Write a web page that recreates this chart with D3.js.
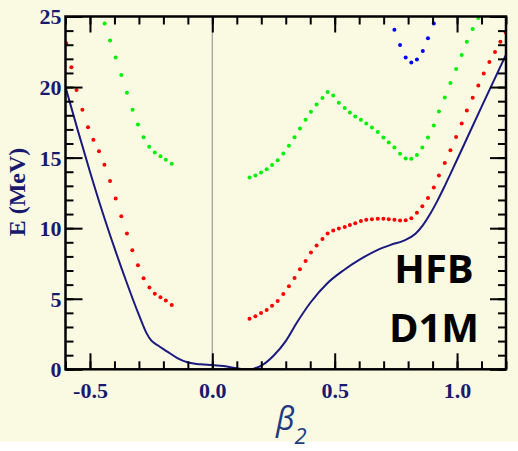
<!DOCTYPE html>
<html>
<head>
<meta charset="utf-8">
<script src="https://cdn.jsdelivr.net/npm/d3@7"></script>
<style>
  body { margin: 0; background: #ffffff; }
  svg { display: block; }
</style>
</head>
<body>
<svg id="chart" width="518" height="451"></svg>
<script>

// energy levels, [beta2, E (MeV)]
var greenLeft = [[-0.487,25.1],[-0.440,24.5],[-0.418,23.3],[-0.395,22.1],[-0.372,20.85],[-0.349,19.6],
  [-0.326,18.4],[-0.304,17.35],[-0.281,16.45],[-0.258,15.77],[-0.235,15.36],[-0.212,15.1],[-0.190,14.85],[-0.166,14.56]];

var redLeft = [[-0.597,23.1],[-0.576,21.4],[-0.555,19.8],[-0.531,18.4],[-0.508,17.16],[-0.486,16.26],[-0.463,15.45],
  [-0.441,14.5],[-0.418,13.35],[-0.395,12.1],[-0.372,10.85],[-0.349,9.62],[-0.327,8.44],[-0.304,7.38],[-0.281,6.45],
  [-0.257,5.79],[-0.235,5.36],[-0.212,5.11],[-0.190,4.87],[-0.166,4.56]];

var greenRight = [[0.152,13.59],[0.176,13.73],[0.199,13.94],[0.222,14.18],[0.244,14.47],[0.267,14.82],[0.290,15.29],
  [0.313,15.84],[0.336,16.45],[0.358,17.07],[0.381,17.68],[0.403,18.25],[0.426,18.77],[0.450,19.22],[0.471,19.65],
  [0.494,19.4],[0.517,18.89],[0.541,18.51],[0.562,18.2],[0.584,17.92],[0.607,17.68],[0.629,17.42],[0.652,17.14],
  [0.676,16.81],[0.699,16.43],[0.721,16.07],[0.744,15.72],[0.767,15.27],[0.790,14.94],[0.813,14.92],[0.836,15.18],
  [0.858,15.72],[0.881,16.43],[0.905,17.28],[0.926,18.27],[0.950,19.26],[0.973,20.28],[0.996,21.28],[1.019,22.27],
  [1.040,23.21],[1.064,24.11],[1.087,24.89]];

var redRight = [[0.152,3.59],[0.176,3.76],[0.199,3.99],[0.222,4.21],[0.244,4.51],[0.267,4.84],[0.290,5.34],[0.313,5.88],
  [0.336,6.47],[0.358,7.09],[0.381,7.68],[0.403,8.27],[0.426,8.77],[0.450,9.24],[0.471,9.62],[0.494,9.83],[0.517,9.97],
  [0.541,10.09],[0.562,10.23],[0.584,10.35],[0.607,10.5],[0.629,10.59],[0.652,10.64],[0.676,10.66],[0.699,10.66],
  [0.721,10.64],[0.744,10.59],[0.767,10.54],[0.790,10.56],[0.813,10.71],[0.836,11.09],[0.858,11.56],[0.881,12.13],
  [0.905,12.88],[0.926,13.73],[0.950,14.61],[0.973,15.53],[0.996,16.47],[1.019,17.42],[1.040,18.34],[1.064,19.24],
  [1.087,20.11],[1.109,20.96],[1.132,21.77],[1.155,22.48],[1.177,23.21],[1.199,23.87]];

var blueRight = [[0.744,24.06],[0.767,22.98],[0.790,22.1],[0.813,21.74],[0.836,21.96],[0.860,22.55],[0.881,23.45],[0.905,24.51]];

// HFB ground state energy curve
var hfbCurve = [[-0.6,20.0],[-0.55,16.95],[-0.5,14.0],[-0.45,11.2],[-0.4,8.6],[-0.35,6.15],[-0.3,3.85],
  [-0.27,2.6],[-0.25,2.05],[-0.225,1.72],[-0.184,1.25],[-0.143,0.8],[-0.102,0.5],[-0.048,0.35],[0.0,0.3],
  [0.047,0.23],[0.102,0.07],[0.15,0.0],[0.204,0.3],[0.252,1.0],[0.300,2.0],[0.347,3.35],[0.402,4.75],[0.470,6.1],
  [0.538,7.04],[0.6,7.75],[0.674,8.45],[0.729,8.82],[0.78,9.1],[0.83,9.6],[0.86,10.2],[0.89,11.0],
  [0.92,11.95],[0.95,13.0],[1.0,14.85],[1.1,18.6],[1.2,22.3]];

var xMajorTicks = [-0.5, 0.0, 0.5, 1.0];
var xTickLabels = ["-0.5", "0.0", "0.5", "1.0"];
var yMajorTicks = [0, 5, 10, 15, 20, 25];
var yTickLabels = ["0", "5", "10", "15", "20", "25"];

var navy = "#191970";
var labelFont = "'Liberation Serif', 'Times New Roman', serif";

var svg = d3.select("#chart");

// page background, white strip at the bottom
svg.append("rect").attr("width", 518).attr("height", 442).attr("fill", "#fafae2");

var x = d3.scaleLinear().domain([-0.6, 1.2]).range([65.5, 506]);
var y = d3.scaleLinear().domain([0, 25]).range([369.3, 16.5]);

var xMinor = d3.range(-6, 13).map(function(d){ return d / 10; });
var yMinor = d3.range(0, 26);

// clip for the plot area
svg.append("defs").append("clipPath").attr("id", "plot")
  .append("rect")
  .attr("x", x(-0.6)).attr("y", y(25))
  .attr("width", x(1.2) - x(-0.6)).attr("height", y(0) - y(25));

// gray line at beta = 0
svg.append("line")
  .attr("x1", x(0)).attr("x2", x(0))
  .attr("y1", y(0)).attr("y2", y(25))
  .attr("stroke", "#a8a8a0").attr("stroke-width", 1.4);

var plot = svg.append("g").attr("clip-path", "url(#plot)");

var line = d3.line()
  .x(function(d){ return x(d[0]); })
  .y(function(d){ return y(d[1]); })
  .curve(d3.curveMonotoneX);

plot.append("path")
  .datum(hfbCurve)
  .attr("d", line)
  .attr("fill", "none")
  .attr("stroke", "#1a1a80")
  .attr("stroke-width", 2);

// dotted excited levels
var series = [
  {data: greenLeft, color: "#00f000"},
  {data: greenRight, color: "#00f000"},
  {data: redLeft, color: "#ff0000"},
  {data: redRight, color: "#ff0000"},
  {data: blueRight, color: "#0000ff"}
];

series.forEach(function(s){
  plot.append("g").selectAll("circle")
    .data(s.data)
    .enter().append("circle")
    .attr("cx", function(d){ return x(d[0]); })
    .attr("cy", function(d){ return y(d[1]); })
    .attr("r", 2)
    .attr("fill", s.color);
});

// ticks on all four sides, pointing inward
function styleAxis(g){
  g.select(".domain").remove();
  g.selectAll(".tick line").attr("stroke", "#000").attr("stroke-width", 2);
}

svg.append("g").attr("transform", "translate(0," + y(0) + ")")
  .call(d3.axisBottom(x).tickValues(xMinor).tickSize(-8).tickFormat(""))
  .call(styleAxis);
svg.append("g").attr("transform", "translate(0," + y(0) + ")")
  .call(d3.axisBottom(x).tickValues(xMajorTicks).tickSize(-16)
    .tickFormat(function(d, i){ return xTickLabels[i]; }))
  .call(styleAxis)
  .call(function(g){
    g.selectAll("text")
      .attr("y", 29).attr("dy", null)
      .attr("fill", navy)
      .style("font", "bold 22px " + labelFont);
  });

svg.append("g").attr("transform", "translate(0," + y(25) + ")")
  .call(d3.axisTop(x).tickValues(xMinor).tickSize(-8).tickFormat(""))
  .call(styleAxis);
svg.append("g").attr("transform", "translate(0," + y(25) + ")")
  .call(d3.axisTop(x).tickValues(xMajorTicks).tickSize(-16).tickFormat(""))
  .call(styleAxis);

svg.append("g").attr("transform", "translate(" + x(-0.6) + ",0)")
  .call(d3.axisLeft(y).tickValues(yMinor).tickSize(-8).tickFormat(""))
  .call(styleAxis);
svg.append("g").attr("transform", "translate(" + x(-0.6) + ",0)")
  .call(d3.axisLeft(y).tickValues(yMajorTicks).tickSize(-17)
    .tickFormat(function(d, i){ return yTickLabels[i]; }))
  .call(styleAxis)
  .call(function(g){
    g.selectAll("text")
      .attr("x", -4).attr("dy", "0.34em")
      .attr("fill", navy)
      .style("font", "bold 22px " + labelFont);
  });

svg.append("g").attr("transform", "translate(" + x(1.2) + ",0)")
  .call(d3.axisRight(y).tickValues(yMinor).tickSize(-8).tickFormat(""))
  .call(styleAxis);
svg.append("g").attr("transform", "translate(" + x(1.2) + ",0)")
  .call(d3.axisRight(y).tickValues(yMajorTicks).tickSize(-16).tickFormat(""))
  .call(styleAxis);

// frame
svg.append("rect")
  .attr("x", x(-0.6)).attr("y", y(25))
  .attr("width", x(1.2) - x(-0.6)).attr("height", y(0) - y(25))
  .attr("fill", "none")
  .attr("stroke", "#000")
  .attr("stroke-width", 2.5);

// axis titles
svg.append("text")
  .attr("transform", "translate(25,192) rotate(-90)")
  .attr("text-anchor", "middle")
  .attr("fill", navy)
  .style("font", "bold 24px " + labelFont)
  .text("E (MeV)");

var beta = svg.append("text")
  .attr("x", 276).attr("y", 430)
  .attr("fill", "#1f3a80")
  .style("font", "italic 32px 'Open Sans', sans-serif");
beta.append("tspan").text("β");
beta.append("tspan").attr("dy", 14).style("font-size", "22px").text("2");

// method label
var method = svg.append("g")
  .attr("fill", "#000")
  .attr("text-anchor", "middle")
  .style("font", "bold 40px 'Open Sans', sans-serif");
method.append("text").attr("x", 434).attr("y", 283).text("HFB");
method.append("text").attr("x", 434).attr("y", 342).text("D1M");

</script>
</body>
</html>
